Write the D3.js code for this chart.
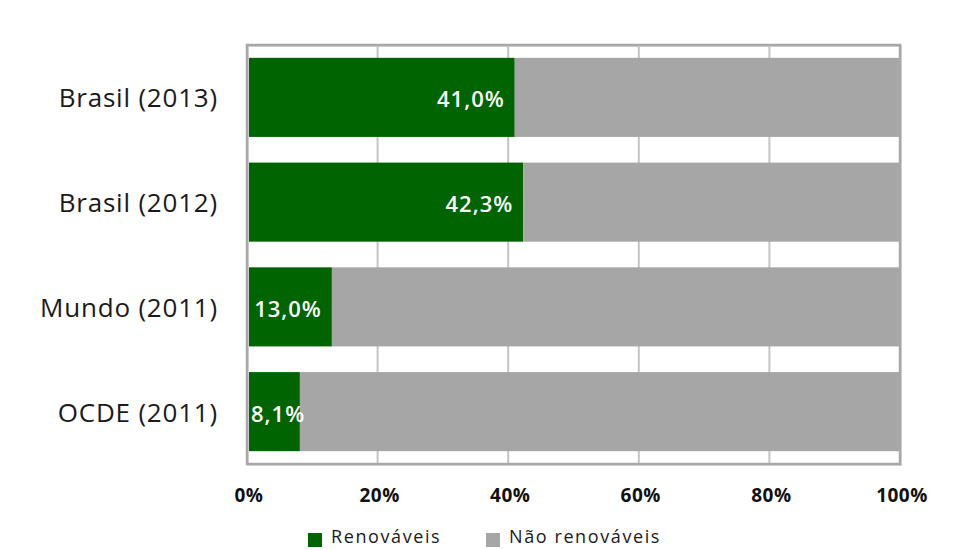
<!DOCTYPE html>
<html><head><meta charset="utf-8">
<script src="https://cdn.jsdelivr.net/npm/d3@7/dist/d3.min.js"></script>
<style>body{margin:0;background:#fff;}svg{display:block;}</style>
</head><body>
<svg id="c" width="960" height="550"></svg>
<script>
const categories = ["Brasil (2013)", "Brasil (2012)", "Mundo (2011)", "OCDE (2011)"];
const renovaveis = [41.0, 42.3, 13.0, 8.1];
const naoRenovaveis = [59.0, 57.7, 87.0, 91.9];
const labels = ["41,0%", "42,3%", "13,0%", "8,1%"];
const ticks = [0, 20, 40, 60, 80, 100];
const tickLabels = ["0%", "20%", "40%", "60%", "80%", "100%"];
const seriesNames = ["Renováveis", "Não renováveis"];
const colors = ["#006400", "#a6a6a6"];

const svg = d3.select("#c");
const L = 247, R = 900, T = 45, B = 464;
const x = d3.scaleLinear().domain([0, 100]).range([L, R]);
const y = d3.scaleBand().domain(categories).range([T, B]).paddingInner(0.245).paddingOuter(0.1225);
const font = "'Open Sans', Lato, sans-serif";

// gridlines
svg.append("g").selectAll("line").data(ticks.slice(1, -1)).join("line")
  .attr("x1", d => x(d)).attr("x2", d => x(d)).attr("y1", T).attr("y2", B)
  .attr("stroke", "#c4c4c4").attr("stroke-width", 2);

const data = categories.map((c, i) => ({c, r: renovaveis[i], n: naoRenovaveis[i], l: labels[i]}));

// bars
svg.append("g").selectAll("rect").data(data).join("rect")
  .attr("x", x(0)).attr("y", d => y(d.c)).attr("width", d => x(d.r) - x(0)).attr("height", y.bandwidth())
  .attr("fill", colors[0]);
svg.append("g").selectAll("rect").data(data).join("rect")
  .attr("x", d => x(d.r)).attr("y", d => y(d.c)).attr("width", d => x(d.r + d.n) - x(d.r)).attr("height", y.bandwidth())
  .attr("fill", colors[1]);

// border
svg.append("rect").attr("x", L + 1).attr("y", T + 1).attr("width", R - L).attr("height", B - T)
  .attr("fill", "none").attr("stroke", "#d8d8d8").attr("stroke-width", 2);
svg.append("rect").attr("x", L).attr("y", T).attr("width", R - L).attr("height", B - T)
  .attr("fill", "none").attr("stroke", "#a8a8a8").attr("stroke-width", 2.5);

// value labels
const vl = svg.append("g").selectAll("text").data(data).join("text")
  .attr("y", d => y(d.c) + y.bandwidth() / 2 + 4)
  .attr("dominant-baseline", "middle")
  .attr("fill", "#fff").attr("font-family", font).attr("font-size", 22).attr("font-weight", 600)
  .attr("letter-spacing", 1)
  .text(d => d.l);
vl.each(function(d) {
  const w = this.getComputedTextLength();
  const xe = Math.max(x(d.r) - 10, L + 4 + w);
  d3.select(this).attr("x", xe).attr("text-anchor", "end");
});

// category axis labels
svg.append("g").selectAll("text").data(categories).join("text")
  .attr("x", 218).attr("y", d => y(d) + y.bandwidth() / 2 + 3)
  .attr("text-anchor", "end").attr("dominant-baseline", "middle")
  .attr("fill", "#1a1a1a").attr("font-family", font).attr("font-size", 26).attr("letter-spacing", 0.8)
  .text(d => d);

// x tick labels
svg.append("g").selectAll("text").data(ticks).join("text")
  .attr("x", d => x(d) + 2).attr("y", 497).attr("text-anchor", "middle").attr("dominant-baseline", "middle")
  .attr("fill", "#111").attr("font-family", font).attr("font-size", 19).attr("font-weight", 700)
  .attr("letter-spacing", 0.5)
  .text((d, i) => tickLabels[i]);

// legend
const lg = svg.append("g");
const lx = [308, 486];
seriesNames.forEach((s, i) => {
  lg.append("rect").attr("x", lx[i]).attr("y", 533).attr("width", 14).attr("height", 14).attr("fill", colors[i]);
  lg.append("text").attr("x", lx[i] + 23).attr("y", 538).attr("dominant-baseline", "middle")
    .attr("fill", "#1a1a1a").attr("font-family", font).attr("font-size", 18).attr("letter-spacing", 1.6).text(s);
});
</script>
</body></html>
